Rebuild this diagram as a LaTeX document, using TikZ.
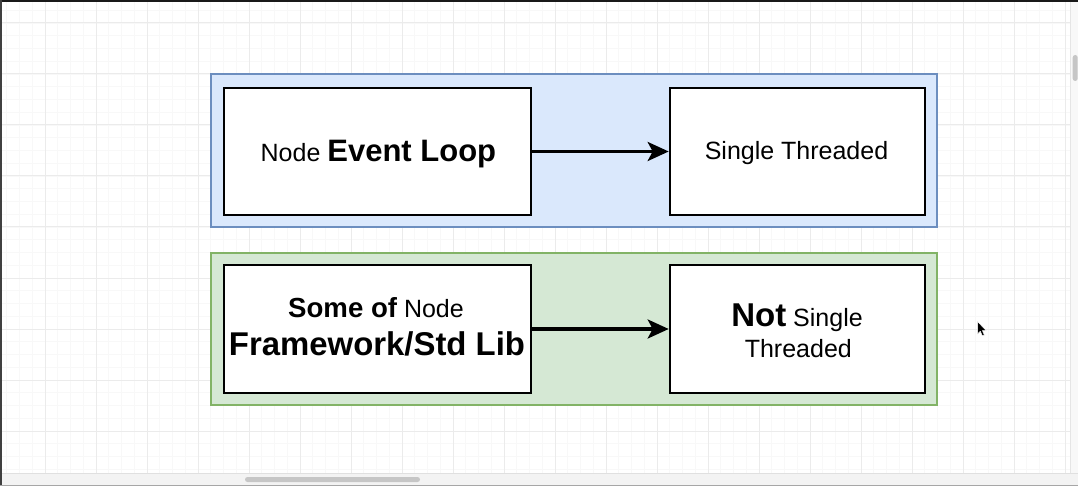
\documentclass[tikz,border=0pt]{standalone}
\usepackage{fontspec}
\setmainfont{Liberation Sans}
\usetikzlibrary{arrows.meta}
\definecolor{bluefill}{HTML}{DAE8FC}
\definecolor{blueline}{HTML}{6C8EBF}
\definecolor{greenfill}{HTML}{D5E8D4}
\definecolor{greenline}{HTML}{82B366}
\definecolor{gridmajor}{HTML}{EBEBEB}
\definecolor{gridminor}{HTML}{F8F8F8}
\definecolor{trackc}{HTML}{F3F3F3}
\definecolor{thumbc}{HTML}{C6C6C6}
\newcommand{\regf}{\fontsize{25}{30}\selectfont}
\newcommand{\boldbig}[1]{{\fontsize{31}{36}\selectfont\bfseries #1}}
\tikzset{
  container/.style={draw, line width=2pt, inner sep=0pt, outer sep=0pt},
  bluebox/.style={container, fill=bluefill, draw=blueline},
  greenbox/.style={container, fill=greenfill, draw=greenline},
  whitebox/.style={draw=black, fill=white, line width=2.6pt, inner sep=0pt},
  arr/.style={draw=black, line width=3.2pt, -{Stealth[length=21pt,width=19pt,inset=5pt]}},
  lbl/.style={anchor=base, inner sep=0pt, font=\regf},
}
\begin{document}
\begin{tikzpicture}[x=1pt,y=-1pt]
\useasboundingbox (0,0) rectangle (1078,486);
\fill[white] (0,0) rectangle (1078,486);
% grid
\foreach \gx in {6.75,19.5,...,1070} \draw[gridminor, line width=0.7pt] (\gx,2) -- (\gx,473);
\foreach \gy in {10.25,23,...,473} \draw[gridminor, line width=0.7pt] (2,\gy) -- (1070,\gy);
\foreach \gx in {45,96,...,1070} \draw[gridmajor, line width=1pt] (\gx,2) -- (\gx,473);
\foreach \gy in {23,74,...,473} \draw[gridmajor, line width=1pt] (2,\gy) -- (1070,\gy);
% window edges and scrollbars
\fill[black!90] (0,0) rectangle (1078,2);
\fill[black!75] (0,0) rectangle (2,486);
\fill[trackc] (2,473) rectangle (1078,486);
\draw[black!12, line width=0.8pt] (2,473.4) -- (1078,473.4);
\fill[black!35] (0,484.5) rectangle (1078,486);
\fill[trackc!60] (1070,2) rectangle (1078,473);
\draw[black!10, line width=0.8pt] (1070.4,2) -- (1070.4,473);
\fill[thumbc, rounded corners=2.5pt] (245,477) rectangle (420,482);
\fill[thumbc, rounded corners=2.5pt] (1072.7,55) rectangle (1077.7,81);
% containers
\node[bluebox, minimum width=726pt, minimum height=153pt] (c1) at (574,150.5) {};
\node[greenbox, minimum width=726pt, minimum height=152pt] (c2) at (574,329) {};
% boxes
\node[whitebox, minimum width=307pt, minimum height=127pt] (b1) at (377.5,151.5) {};
\node[whitebox, minimum width=255pt, minimum height=127pt] (b2) at (797.5,151.5) {};
\node[whitebox, minimum width=307pt, minimum height=128pt] (b3) at (377.5,329) {};
\node[whitebox, minimum width=255pt, minimum height=128pt] (b4) at (797.5,329) {};
% connectors
\draw[arr] (b1) -- (b2);
\draw[arr] (b3) -- (b4);
% labels
\node[lbl] (t1) at (378.4,161.7) {Node \boldbig{Event Loop}};
\node[lbl] (t2) at (796.5,159.3) {Single Threaded};
\node[lbl] (t3a) at (376,317.3) {{\fontsize{27.6}{32}\selectfont\bfseries Some of} Node};
\node[lbl] (t3b) at (377,355) {{\fontsize{32.9}{38}\selectfont\bfseries Framework/Std Lib}};
\node[lbl] (t4a) at (797,326) {{\fontsize{33}{38}\selectfont\bfseries Not} Single};
\node[lbl] (t4b) at (798.3,357.3) {Threaded};
% mouse cursor
\filldraw[fill=black, draw=white, line width=0.5pt, line join=round]
  (977.5,321.5) -- (977.5,334) -- (980.3,331.3) -- (982.3,335.8) -- (984.3,335) -- (982.4,330.6) -- (986.2,330.6) -- cycle;
\end{tikzpicture}
\end{document}
